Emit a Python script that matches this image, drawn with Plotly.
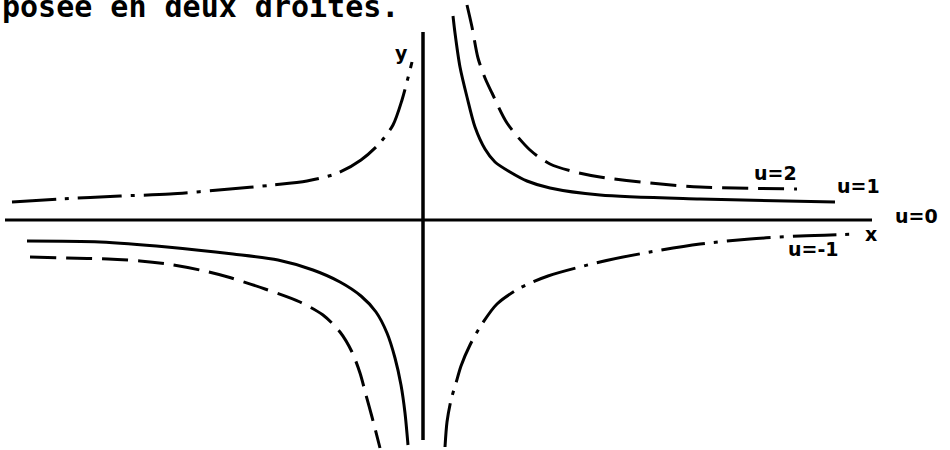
import plotly.graph_objects as go

# Traced curve points (x, y) in axis units, origin at the crossing of the axes.
# u = 1 (solid)
u1_q1_x = [0.30, 0.32, 0.37, 0.44, 0.52, 0.62, 0.72, 0.87, 1.04, 1.27, 1.77, 2.77, 4.12]
u1_q1_y = [2.04, 1.87, 1.53, 1.23, 0.93, 0.71, 0.58, 0.48, 0.39, 0.32, 0.25, 0.21, 0.18]
u1_q3_x = [-3.96, -3.23, -2.56, -1.90, -1.45, -1.10, -0.83, -0.62, -0.47, -0.36, -0.28,
           -0.22, -0.18, -0.15]
u1_q3_y = [-0.21, -0.22, -0.27, -0.34, -0.40, -0.50, -0.62, -0.76, -0.92, -1.13, -1.38,
           -1.65, -1.93, -2.25]

# u = 2 (dashed)
u2_q1_x = [0.44, 0.49, 0.55, 0.62, 0.69, 0.84, 1.07, 1.27, 1.52, 1.77, 2.27, 2.77, 3.74]
u2_q1_y = [2.15, 1.93, 1.62, 1.42, 1.27, 0.97, 0.70, 0.56, 0.48, 0.43, 0.37, 0.33, 0.31]
u2_q3_x = [-3.93, -3.56, -3.15, -2.83, -2.56, -2.23, -1.95, -1.58, -1.23, -1.00, -0.83,
           -0.71, -0.63, -0.57, -0.51, -0.43]
u2_q3_y = [-0.37, -0.38, -0.39, -0.41, -0.44, -0.50, -0.57, -0.69, -0.82, -0.95, -1.12,
           -1.32, -1.53, -1.75, -1.97, -2.28]

# u = -1 (dash-dot)
um1_q2_x = [-4.11, -3.63, -3.03, -2.53, -1.93, -1.50, -1.16, -0.85, -0.62, -0.44, -0.30,
            -0.21, -0.11]
um1_q2_y = [0.18, 0.21, 0.24, 0.26, 0.31, 0.35, 0.39, 0.47, 0.60, 0.76, 0.95, 1.20, 1.58]
um1_q4_x = [0.22, 0.24, 0.28, 0.33, 0.38, 0.47, 0.59, 0.74, 0.97, 1.25, 1.77, 2.27, 2.77,
            3.27, 3.77, 4.35]
um1_q4_y = [-2.27, -2.02, -1.80, -1.63, -1.46, -1.25, -1.04, -0.84, -0.68, -0.56, -0.42,
            -0.32, -0.24, -0.19, -0.16, -0.14]

# Axes (u = 0: the pair of lines)
x_axis_x = [-4.18, 4.49]
x_axis_y = [0, 0]
y_axis_x = [0, 0]
y_axis_y = [1.88, -2.20]

INK = "#000000"
SOLID = dict(color=INK, width=3, shape="spline", smoothing=0.8)
DASHED = dict(color=INK, width=3, shape="spline", smoothing=0.8, dash="26px,10px")
DASHDOT = dict(color=INK, width=3, shape="spline", smoothing=0.8, dash="44px,9px,4px,9px")

fig = go.Figure()

def add(x, y, line):
    fig.add_trace(go.Scatter(x=x, y=y, mode="lines", line=line,
                             hoverinfo="skip", showlegend=False))

add(x_axis_x, x_axis_y, dict(color=INK, width=3))
add(y_axis_x, y_axis_y, dict(color=INK, width=3.5))
add(u1_q1_x, u1_q1_y, SOLID)
add(u1_q3_x, u1_q3_y, SOLID)
add(u2_q1_x, u2_q1_y, DASHED)
add(u2_q3_x, u2_q3_y, DASHED)
add(um1_q2_x, um1_q2_y, DASHDOT)
add(um1_q4_x, um1_q4_y, DASHDOT)

label_font = dict(family="DejaVu Sans", size=19, color=INK)
labels = [
    ("<b>u=2</b>", 3.52, 0.47),
    ("<b>u=1</b>", 4.35, 0.34),
    ("<b>u=0</b>", 4.93, 0.04),
    ("<b>x</b>", 4.48, -0.14),
    ("<b>u=-1</b>", 3.90, -0.29),
    ("<b>y</b>", -0.22, 1.67),
]
for text, lx, ly in labels:
    fig.add_annotation(x=lx, y=ly, text=text, showarrow=False, font=label_font,
                       xanchor="center", yanchor="middle")

fig.add_annotation(x=0.0, y=1.0, xref="paper", yref="paper",
                   text="<b>posée en deux droites.</b>", showarrow=False,
                   font=dict(family="DejaVu Sans Mono", size=30, color=INK),
                   xanchor="left", yanchor="middle", yshift=-6)

fig.update_layout(
    width=950, height=450,
    margin=dict(l=0, r=0, t=0, b=0),
    paper_bgcolor="white", plot_bgcolor="white",
    xaxis=dict(range=[-4.23, 5.27], visible=False, fixedrange=True),
    yaxis=dict(range=[-2.30, 2.20], visible=False, fixedrange=True),
)

fig.write_html("out.html")
